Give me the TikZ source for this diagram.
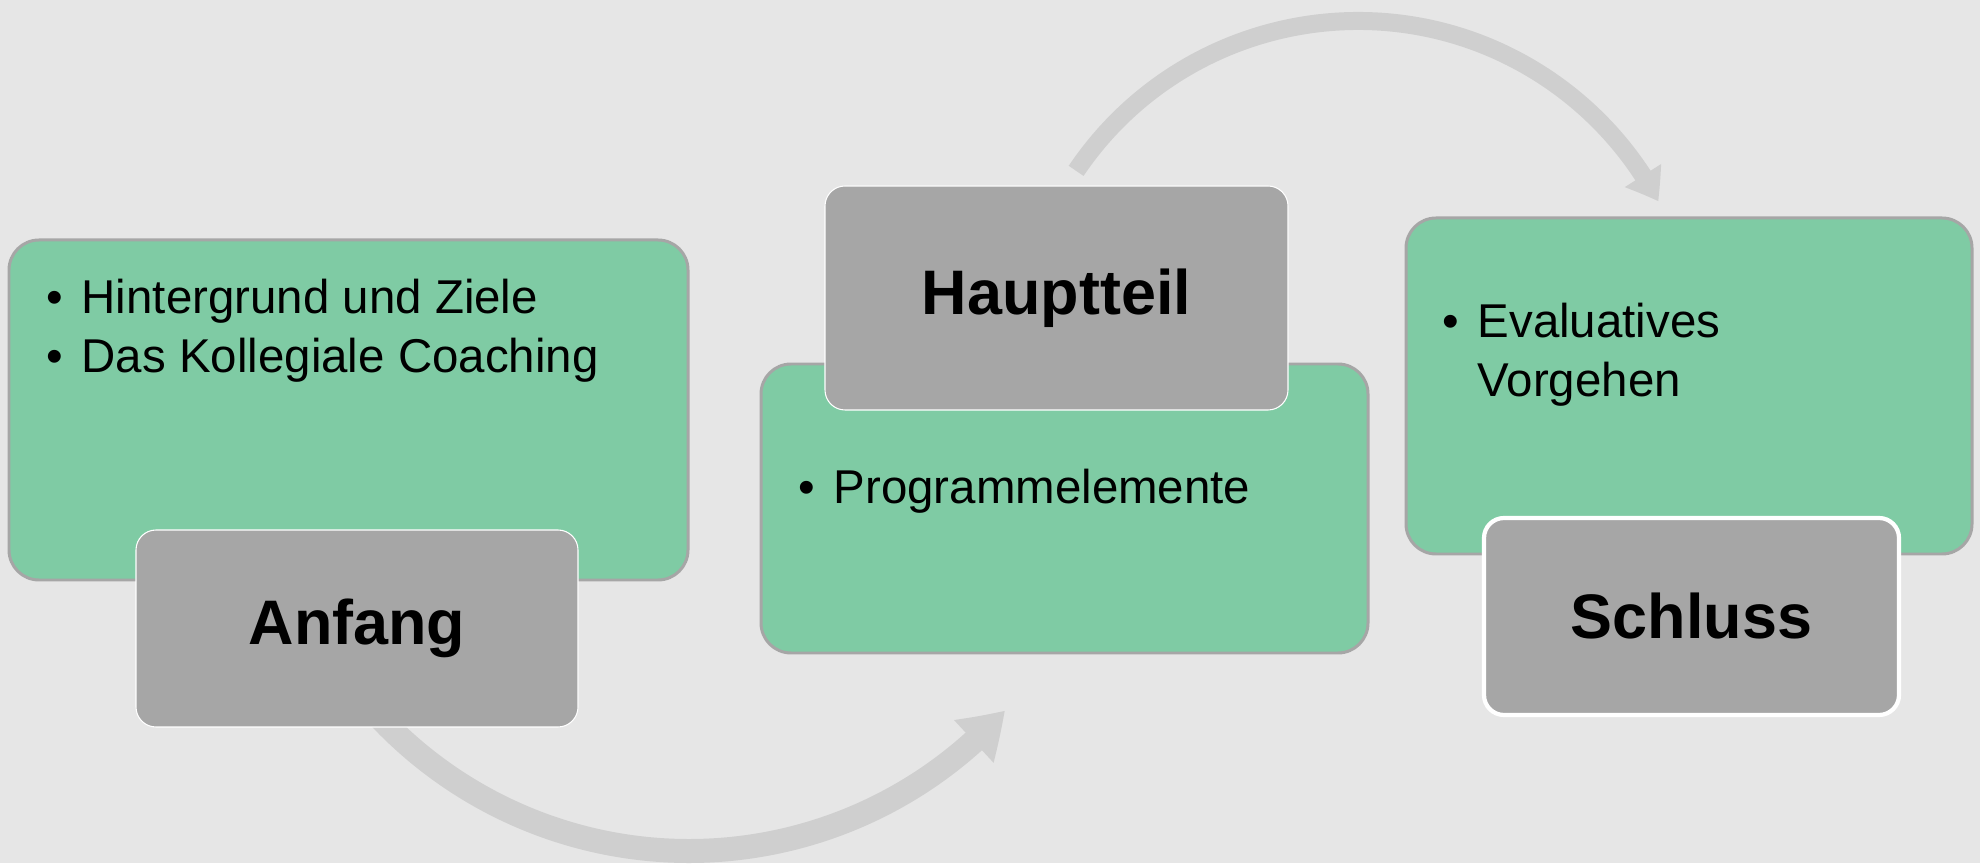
\documentclass[tikz,border=0pt]{standalone}
\usepackage{fontspec}
\setmainfont{Liberation Sans}
\usetikzlibrary{arrows.meta,bending,calc,positioning}
\definecolor{slidebg}{RGB}{230,230,230}
\definecolor{stagegreen}{RGB}{127,203,164}
\definecolor{stagegray}{RGB}{166,166,166}
\definecolor{flowgray}{RGB}{207,207,207}

\begin{document}
\begin{tikzpicture}[line join=round,
  stagebox/.style={draw=stagegray,line width=.85pt,fill=stagegreen,
   rounded corners=.3cm,inner sep=0pt},
  titlebox/.style={draw=white,fill=stagegray,rounded corners=.2cm,
   inner sep=0pt,font=\fontsize{17.9}{20}\selectfont\bfseries},
  bulletline/.style={anchor=base west,inner sep=0pt,
   font=\fontsize{13.5}{16}\selectfont},
  flowarc/.style={draw=flowgray,line cap=butt}]
 \useasboundingbox (0,0) rectangle (19.8,8.63);
 \fill[slidebg] (0,0) rectangle (19.8,8.63);
 % arcs behind the boxes
 \coordinate (low-start) at ($(6.89,4.37)+(220:4.25)$);
 \coordinate (high-start) at ($(13.58,5.02)+(146:3.40)$);
 \draw[flowarc,line width=.24cm,-{Triangle[length=.44cm,width=.55cm,bend]}]
  (low-start) arc[start angle=220,end angle=318,radius=4.25];
 \draw[flowarc,line width=.18cm,-{Triangle[length=.30cm,width=.41cm,bend]}]
  (high-start) arc[start angle=146,end angle=28,radius=3.40];
 % green stage boxes and their titles
 \foreach \n/\gx/\gy/\gw/\gh/\tx/\ty/\tw/\th/\lab/\rim in {
   anfang/3.485/4.53/6.79/3.40/3.57/2.345/4.42/1.97/Anfang/.3pt,
   haupt/10.645/3.545/6.07/2.89/10.565/5.65/4.63/2.24/Hauptteil/.3pt,
   schluss/16.89/4.77/5.66/3.36/16.915/2.465/4.15/1.97/Schluss/1.2pt}{
  \node[stagebox,minimum width=\gw cm,minimum height=\gh cm]
   (\n-box) at (\gx,\gy) {};
  \node[titlebox,line width=\rim,minimum width=\tw cm,minimum height=\th cm]
   (\n) at (\tx,\ty) {\lab};
 }
 \node[bulletline] (anfang-l1) at (0.46,5.49)
  {\makebox[.35cm][l]{\textbullet}Hintergrund und Ziele};
 \node[bulletline] (anfang-l2) at (0.46,4.90)
  {\makebox[.35cm][l]{\textbullet}Das Kollegiale Coaching};
 \node[bulletline] (haupt-l1) at (7.98,3.59)
  {\makebox[.35cm][l]{\textbullet}Programmelemente};
 \node[bulletline] (schluss-l1) at (14.42,5.25)
  {\makebox[.35cm][l]{\textbullet}Evaluatives};
 \node[bulletline] (schluss-l2) at (14.77,4.66) {Vorgehen};
\end{tikzpicture}
\end{document}
